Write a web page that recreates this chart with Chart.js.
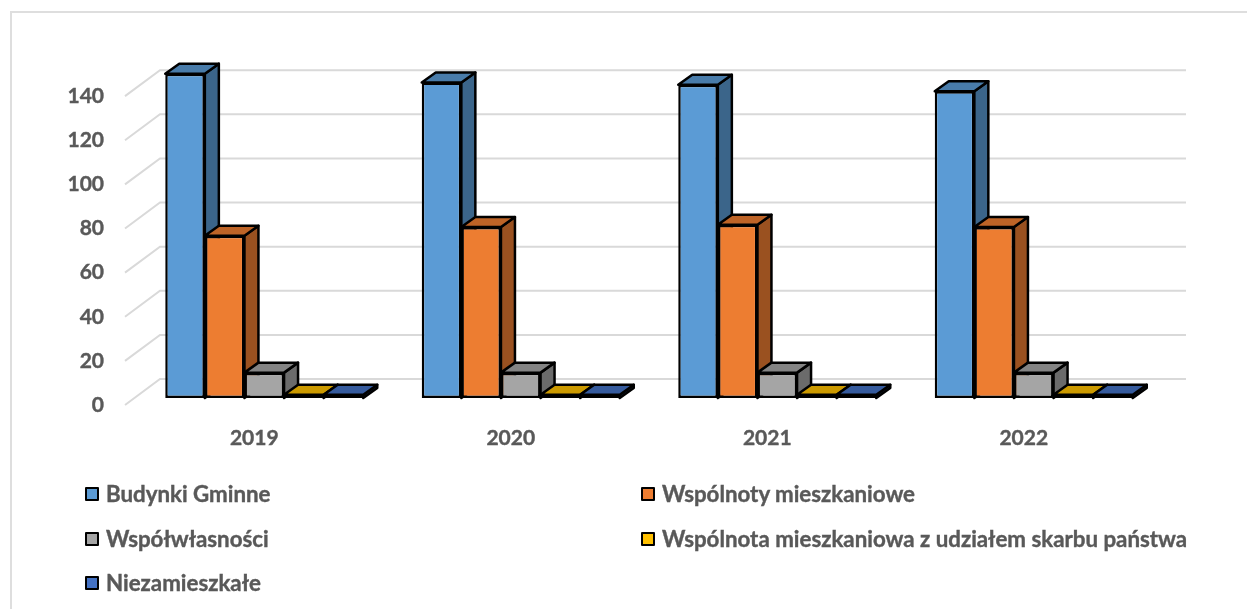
<!DOCTYPE html>
<html>
<head>
<meta charset="utf-8">
<script src="https://cdn.jsdelivr.net/npm/chart.js@4"></script>
<style>
    html, body { margin: 0; padding: 0; background: #fff; width: 1247px; height: 609px; overflow: hidden; }
    #wrap { position: absolute; left: 0; top: 0; width: 1247px; height: 609px; overflow: hidden; }
    #frame { position: absolute; left: 10px; top: 11px; width: 1300px; height: 700px; border-left: 2px solid #dedede; border-top: 2px solid #dedede; }
    #chart { position: absolute; left: 0; top: 0; }
    #legend { position: absolute; left: 0; top: 0; font: bold 22.3px Lato, sans-serif; color: #595959; -webkit-text-stroke: 0.4px #595959; }
    .item { position: absolute; white-space: nowrap; height: 14px; line-height: 14px; }
    .box { position: absolute; left: 0; top: 0; width: 10px; height: 10px; border: 2.5px solid #000; border-radius: 1px; -webkit-text-stroke: 0; }
    .txt { position: absolute; left: 21px; top: 0; }
</style>
</head>
<body>
<div id="wrap">
    <div id="frame"></div>
    <canvas id="chart" width="1247" height="609"></canvas>
    <div id="legend"></div>
</div>
<script>
const categorias = ['2019', '2020', '2021', '2022'];
const budynkiGminne = [147, 143, 142, 139];
const wspolnoty = [73.5, 77.5, 78.5, 77.5];
const wspolwlasnosci = [11.5, 11.5, 11.5, 11.5];
const wspolnotaSkarb = [1.5, 1.5, 1.5, 1.5];
const niezamieszkale = [1.5, 1.5, 1.5, 1.5];
const yTicks = [0, 20, 40, 60, 80, 100, 120, 140];

const GLEBOKOSC_X = 14;
const GLEBOKOSC_Y = 10;

function przyciemnij(hex, f) {
    const n = parseInt(hex.slice(1), 16);
    const r = Math.round((n >> 16) * f), g = Math.round(((n >> 8) & 255) * f), b = Math.round((n & 255) * f);
    return `rgb(${r},${g},${b})`;
}

function wielokat(ctx, pts, fill) {
    ctx.beginPath();
    pts.forEach((p, i) => i ? ctx.lineTo(p[0], p[1]) : ctx.moveTo(p[0], p[1]));
    ctx.closePath();
    ctx.fillStyle = fill;
    ctx.fill();
    ctx.stroke();
}

// siatka i boki slupkow 3D, rysowane pod przednimi scianami
const efekt3d = {
    id: 'efekt3d',
    beforeDatasetsDraw(chart) {
        const ctx = chart.ctx;
        const y = chart.scales.y;
        ctx.save();
        ctx.strokeStyle = '#d9d9d9';
        ctx.lineWidth = 2;
        yTicks.forEach(v => {
            const p = y.getPixelForValue(v);
            ctx.beginPath();
            ctx.moveTo(125, p + 7);
            ctx.lineTo(160, p - 19);
            ctx.lineTo(1186, p - 19);
            ctx.stroke();
        });
        ctx.strokeStyle = '#000';
        ctx.lineWidth = 2.5;
        ctx.lineJoin = 'round';
        chart.data.datasets.forEach((ds, i) => {
            chart.getDatasetMeta(i).data.forEach(bar => {
                const l = bar.x - bar.width / 2, r = bar.x + bar.width / 2;
                const t = bar.y, b = bar.base;
                const dx = GLEBOKOSC_X, dy = GLEBOKOSC_Y;
                wielokat(ctx, [[r, t], [r + dx, t - dy], [r + dx, b - dy], [r, b]], przyciemnij(ds.backgroundColor, 0.65));
                wielokat(ctx, [[l, t], [l + dx, t - dy], [r + dx, t - dy], [r, t]], przyciemnij(ds.backgroundColor, 0.8));
            });
        });
        ctx.restore();
    }
};

const czcionkaOsi = { family: 'Lato', size: 21, weight: 'bold' };

const chart = new Chart(document.getElementById('chart').getContext('2d'), {
    type: 'bar',
    data: {
        labels: categorias,
        datasets: [
            { label: 'Budynki Gminne', data: budynkiGminne, backgroundColor: '#5b9bd5' },
            { label: 'Wspólnoty mieszkaniowe', data: wspolnoty, backgroundColor: '#ed7d31' },
            { label: 'Współwłasności', data: wspolwlasnosci, backgroundColor: '#a5a5a5' },
            { label: 'Wspólnota mieszkaniowa z udziałem skarbu państwa', data: wspolnotaSkarb, backgroundColor: '#ffc000' },
            { label: 'Niezamieszkałe', data: niezamieszkale, backgroundColor: '#4472c4' }
        ]
    },
    options: {
        responsive: false,
        animation: false,
        layout: { padding: { left: 0, right: 85, top: 45, bottom: 0 } },
        datasets: { bar: { categoryPercentage: 0.772, barPercentage: 1, borderColor: '#000', borderWidth: 2.5, borderSkipped: false } },
        plugins: { legend: { display: false }, tooltip: { enabled: false } },
        scales: {
            x: {
                grid: { display: false },
                border: { display: false },
                afterFit: s => { s.height = 195.55; },
                ticks: { labelOffset: -10, padding: 4, color: '#595959', font: czcionkaOsi, maxRotation: 0, textStrokeColor: '#595959', textStrokeWidth: 0.4 }
            },
            y: { display: false, min: -7, max: 160 },
            yEtykiety: {
                position: 'left',
                min: -3.83,
                max: 163.17,
                grid: { display: false, drawTicks: false },
                border: { display: false },
                afterFit: s => { s.width = 136; },
                afterBuildTicks: s => { s.ticks = yTicks.map(v => ({ value: v })); },
                ticks: { padding: 32, color: '#595959', font: czcionkaOsi, textStrokeColor: '#595959', textStrokeWidth: 0.4 }
            }
        }
    },
    plugins: [efekt3d]
});

// legenda w dwoch kolumnach, jak w oryginale
const kolumny = [85, 641];
const wiersze = [487, 532, 576];
const legend = document.getElementById('legend');
chart.data.datasets.forEach((ds, i) => {
    const item = document.createElement('div');
    item.className = 'item';
    item.style.left = kolumny[i % 2] + 'px';
    item.style.top = wiersze[Math.floor(i / 2)] + 'px';
    item.innerHTML = `<span class="box" style="background:${ds.backgroundColor}"></span><span class="txt">${ds.label}</span>`;
    legend.appendChild(item);
});
</script>
</body>
</html>
